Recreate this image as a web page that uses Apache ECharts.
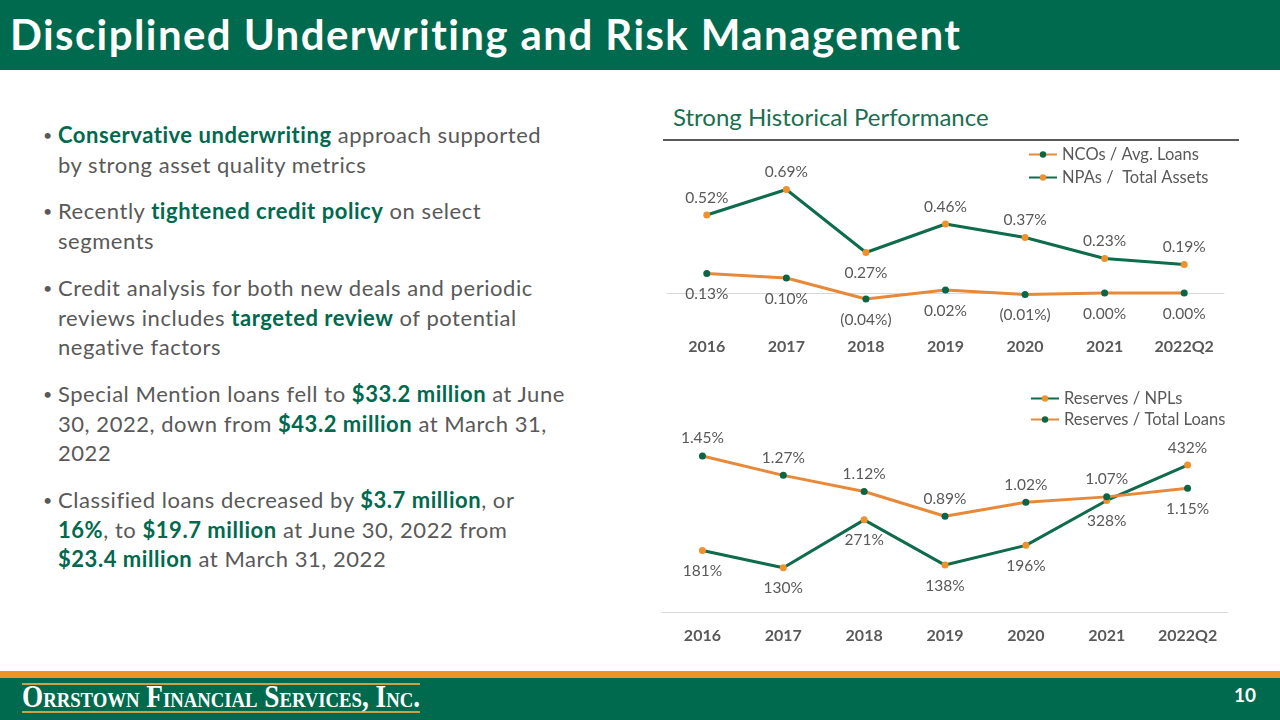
<!DOCTYPE html>
<html>
<head>
<meta charset="utf-8">
<script src="https://cdn.jsdelivr.net/npm/echarts@6/dist/echarts.min.js"></script>
<style>
  html,body{margin:0;padding:0;width:1280px;height:720px;overflow:hidden;background:#fff;font-family:Lato,"Noto Sans",sans-serif;}
  #header{position:absolute;left:0;top:0;width:1280px;height:70px;background:#006A4E;}
  #title{position:absolute;left:10px;top:8px;color:#fff;font-weight:700;font-size:42px;line-height:52px;white-space:nowrap;}
  #bullets{position:absolute;left:40px;top:120px;color:#595959;font-size:22px;line-height:29.7px;}
  .p{position:relative;padding-left:18px;margin-bottom:17px;white-space:nowrap;}
  .p:before{content:"\2022";position:absolute;left:3px;top:0;font-size:16px;}
  .g{color:#00694E;font-weight:700;}
  #sub{position:absolute;left:673px;top:100px;color:#1B6E50;font-size:24px;line-height:34px;white-space:nowrap;}
  #rule{position:absolute;left:663px;top:139px;width:576px;height:2px;background:#595959;}
  #orange{position:absolute;left:0;top:671px;width:1280px;height:7px;background:#F0912A;}
  #footer{position:absolute;left:0;top:678px;width:1280px;height:42px;background:#006A4E;}
  #logo{position:absolute;left:22px;top:683px;width:398px;height:30px;border-top:2px solid #C8A24A;border-bottom:2px solid #C8A24A;box-sizing:border-box;}
  #logotext{position:absolute;left:22px;top:679px;color:#fff;font-family:"Liberation Serif","DejaVu Serif",serif;font-variant:small-caps;font-weight:700;font-size:32px;line-height:34px;white-space:nowrap;transform-origin:0 0;}
  #page{position:absolute;left:1234px;top:683px;color:#fff;font-weight:700;font-size:19px;line-height:24px;}
  #chart{position:absolute;left:0;top:0;width:1280px;height:720px;}
</style>
</head>
<body>
<div id="header"><div id="title"><span id="titletext">Disciplined Underwriting and Risk Management</span></div></div>
<div id="bullets">
  <div class="p"><span id="line1"><span class="g">Conservative underwriting</span> approach supported</span><br>by strong asset quality metrics</div>
  <div class="p">Recently <span class="g">tightened credit policy</span> on select<br>segments</div>
  <div class="p">Credit analysis for both new deals and periodic<br>reviews includes <span class="g">targeted review</span> of potential<br>negative factors</div>
  <div class="p">Special Mention loans fell to <span class="g">$33.2 million</span> at June<br>30, 2022, down from <span class="g">$43.2 million</span> at March 31,<br>2022</div>
  <div class="p">Classified loans decreased by <span class="g">$3.7 million</span>, or<br><span class="g">16%</span>, to <span class="g">$19.7 million</span> at June 30, 2022 from<br><span class="g">$23.4 million</span> at March 31, 2022</div>
</div>
<div id="sub">Strong Historical Performance</div>
<div id="rule"></div>
<div id="orange"></div>
<div id="footer"></div>
<div id="logo"></div>
<div id="logotext"><span id="logospan">Orrstown Financial Services, Inc.</span></div>
<div id="page">10</div>
<div id="chart"></div>
<script>
// ---- data ----
const years = ['2016','2017','2018','2019','2020','2021','2022Q2'];
const ncoAvgLoans = [0.13, 0.10, -0.04, 0.02, -0.01, 0.00, 0.00];
const npaTotalAssets = [0.52, 0.69, 0.27, 0.46, 0.37, 0.23, 0.19];
const reservesNPLs = [181, 130, 271, 138, 196, 328, 432];
const reservesTotalLoans = [1.45, 1.27, 1.12, 0.89, 1.02, 1.07, 1.15];
// label placement (style)
const npaLabelPos = ['top','top','bottom','top','top','top','top'];
const nplLabelPos = ['bottom','bottom','bottom','bottom','bottom','bottom','top'];
const loansLabelPos = ['top','top','top','top','top','top','bottom'];

// fit text widths to the slide
function fitSpacing(el, measureEl, target){
  const w = measureEl.getBoundingClientRect().width;
  const n = measureEl.textContent.length;
  el.style.letterSpacing = ((target - w) / n) + 'px';
}
fitSpacing(document.getElementById('title'), document.getElementById('titletext'), 952);
fitSpacing(document.getElementById('bullets'), document.getElementById('line1'), 484);
(function(){
  const s = document.getElementById('logospan');
  const w = s.getBoundingClientRect().width;
  document.getElementById('logotext').style.transform = 'scaleX(' + (398 / w) + ')';
})();

const GREEN = '#0E6B4C', ORANGE = '#E8893A', ORANGE_M = '#F0922B', GREEN_M = '#0A6646';
const GRAY = '#595959';
const FONT = 'Lato';

function pct2(v){ return v < 0 ? '(' + Math.abs(v).toFixed(2) + '%)' : v.toFixed(2) + '%'; }
function withPos(vals, pos, distTop, distBot){
  return vals.map((v,i)=>({value:v, label:{position:pos[i], distance: pos[i]==='top'?distTop:distBot}}));
}
const lblBase = {show:true, color:GRAY, fontSize:15.5, fontFamily:FONT};

const chart = echarts.init(document.getElementById('chart'), null, {renderer:'canvas'});
chart.setOption({
  animation:false,
  backgroundColor:'transparent',
  textStyle:{fontFamily:FONT},
  grid:[
    {left:667, width:557, top:173, height:157.5},
    {left:662, width:566, top:442, height:170}
  ],
  xAxis:[
    {gridIndex:0, type:'category', data:years, boundaryGap:true,
     axisLine:{show:true, onZero:true, lineStyle:{color:'#D9D9D9', width:1}},
     axisTick:{show:false}, axisLabel:{show:false}},
    {gridIndex:0, type:'category', data:years, boundaryGap:true, position:'bottom',
     axisLine:{show:false, onZero:false}, axisTick:{show:false},
     axisLabel:{color:GRAY, fontWeight:'bold', fontSize:16, fontFamily:FONT, margin:8}},
    {gridIndex:1, type:'category', data:years, boundaryGap:true,
     axisLine:{show:true, lineStyle:{color:'#D9D9D9', width:1}},
     axisTick:{show:false},
     axisLabel:{color:GRAY, fontWeight:'bold', fontSize:16, fontFamily:FONT, margin:16}}
  ],
  yAxis:[
    {gridIndex:0, type:'value', min:-0.25, max:0.8, show:false, splitLine:{show:false}},
    {gridIndex:1, type:'value', min:0, max:500, show:false, splitLine:{show:false}},
    {gridIndex:1, type:'value', min:0, max:1.58, show:false, splitLine:{show:false}}
  ],
  legend:[
    {orient:'vertical', left:1023, top:141, itemWidth:28, itemHeight:8, itemGap:6,
     data:['NCOs / Avg. Loans','NPAs /  Total Assets'],
     textStyle:{color:GRAY, fontSize:16.5, fontFamily:FONT}},
    {orient:'vertical', left:1025, top:385, itemWidth:28, itemHeight:8, itemGap:4,
     data:['Reserves / NPLs','Reserves / Total Loans'],
     textStyle:{color:GRAY, fontSize:16.5, fontFamily:FONT}}
  ],
  series:[
    {name:'NCOs / Avg. Loans', type:'line', xAxisIndex:0, yAxisIndex:0,
     data: ncoAvgLoans, symbol:'circle', symbolSize:7,
     lineStyle:{color:ORANGE, width:3}, itemStyle:{color:GREEN_M},
     label:Object.assign({}, lblBase, {position:'bottom', distance:9, formatter:p=>pct2(p.value)})},
    {name:'NPAs /  Total Assets', type:'line', xAxisIndex:0, yAxisIndex:0,
     data: withPos(npaTotalAssets, npaLabelPos, 6, 9), symbol:'circle', symbolSize:7,
     lineStyle:{color:GREEN, width:3}, itemStyle:{color:ORANGE_M},
     label:Object.assign({}, lblBase, {formatter:p=>pct2(p.value)})},
    {name:'Reserves / NPLs', type:'line', xAxisIndex:2, yAxisIndex:1,
     data: withPos(reservesNPLs, nplLabelPos, 6, 9), symbol:'circle', symbolSize:7,
     lineStyle:{color:GREEN, width:3}, itemStyle:{color:ORANGE_M},
     label:Object.assign({}, lblBase, {formatter:p=>p.value + '%'})},
    {name:'Reserves / Total Loans', type:'line', xAxisIndex:2, yAxisIndex:2,
     data: withPos(reservesTotalLoans, loansLabelPos, 6, 9), symbol:'circle', symbolSize:7,
     lineStyle:{color:ORANGE, width:3}, itemStyle:{color:GREEN_M},
     label:Object.assign({}, lblBase, {formatter:p=>p.value.toFixed(2) + '%'})}
  ]
});
</script>
</body>
</html>
